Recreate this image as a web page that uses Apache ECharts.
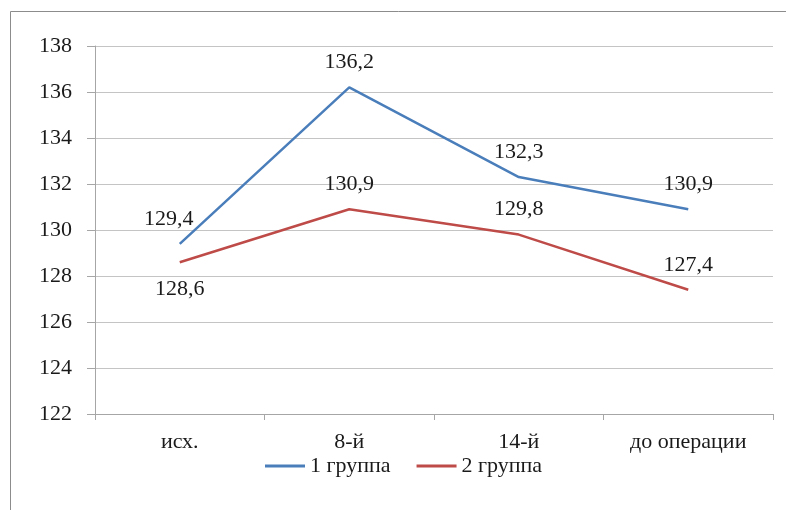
<!DOCTYPE html>
<html>
<head>
<meta charset="utf-8">
<script src="https://cdn.jsdelivr.net/npm/echarts@6/dist/echarts.min.js"></script>
<style>html,body{margin:0;padding:0;background:#fff}#c{width:786px;height:510px}</style>
</head>
<body>
<div id="c"></div>
<script>
var categories = ['исх.', '8-й', '14-й', 'до операции'];
var group1 = [129.4, 136.2, 132.3, 130.9];
var group2 = [128.6, 130.9, 129.8, 127.4];
var seriesNames = ['1 группа', '2 группа'];
var yTicks = {min: 122, max: 138, interval: 2};

var font = '"Liberation Serif", "Times New Roman", serif';
var txt = '#1a1a1a';
var fs = 22;
var chart = echarts.init(document.getElementById('c'));
function fmt(p){ return String(p.value).replace('.', ','); }
chart.setOption({
  animation: false,
  backgroundColor: '#fff',
  graphic: [{
    type: 'rect', shape: {x: 10.5, y: 11.5, width: 800, height: 520},
    style: {fill: 'none', stroke: '#8c8c8c', lineWidth: 1}, silent: true
  }],
  grid: {left: 95, right: 13, top: 46, bottom: 96},
  legend: {
    bottom: 28, left: 260, itemWidth: 40, itemHeight: 3, itemGap: 26,
    icon: 'rect',
    textStyle: {fontFamily: font, fontSize: fs, color: txt},
    data: seriesNames
  },
  xAxis: {
    type: 'category', data: categories, boundaryGap: true,
    axisLine: {lineStyle: {color: '#a6a6a6'}},
    axisTick: {show: true, length: 6, lineStyle: {color: '#a6a6a6'}},
    axisLabel: {fontFamily: font, fontSize: fs, color: txt, margin: 17}
  },
  yAxis: {
    type: 'value', min: yTicks.min, max: yTicks.max, interval: yTicks.interval,
    axisLine: {show: true, lineStyle: {color: '#a6a6a6'}},
    axisTick: {show: true, length: 8, lineStyle: {color: '#a6a6a6'}},
    splitLine: {lineStyle: {color: '#c4c4c4'}},
    axisLabel: {fontFamily: font, fontSize: fs, color: txt, margin: 23}
  },
  series: [{
    name: seriesNames[0], type: 'line', data: group1, showSymbol: true, symbol: 'circle', symbolSize: 0,
    lineStyle: {color: '#4a7ebb', width: 2.5}, itemStyle: {color: '#4a7ebb'},
    label: {show: true, position: 'top', distance: 14, formatter: fmt,
      fontFamily: font, fontSize: fs, color: txt},
    labelLayout: function(p){ return p.dataIndex === 0 ? {dx: -11} : {}; }
  }, {
    name: seriesNames[1], type: 'line', data: group2, showSymbol: true, symbol: 'circle', symbolSize: 0,
    lineStyle: {color: '#be4b48', width: 2.5}, itemStyle: {color: '#be4b48'},
    label: {show: true, position: 'top', distance: 14, formatter: fmt,
      fontFamily: font, fontSize: fs, color: txt},
    labelLayout: function(p){ return p.dataIndex === 0 ? {dy: 52} : {}; }
  }]
});
</script>
</body>
</html>
